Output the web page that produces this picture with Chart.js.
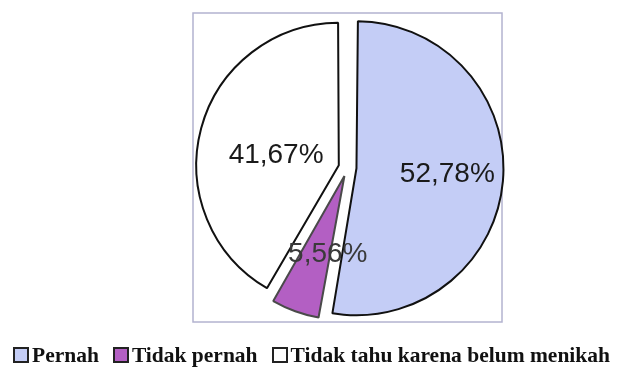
<!DOCTYPE html>
<html lang="id">
<head>
<meta charset="utf-8">
<title>Pie</title>
<script src="https://cdn.jsdelivr.net/npm/chart.js@4/dist/chart.umd.min.js"></script>
<style>
    body { margin: 0; background: #fff; }
    #wrap { position: relative; width: 623px; height: 367px; }
    #legenda {
        position: absolute; left: 0; top: 345px; width: 623px;
        display: flex; justify-content: center; gap: 14px;
        font: bold 21.5px "Liberation Serif", "Times New Roman", serif; color: #111;
        line-height: 20px;
    }
    #legenda .item { display: flex; align-items: center; }
    #legenda .kotak {
        width: 16px; height: 16px; box-sizing: border-box;
        border: 2px solid #222; margin-right: 3px;
    }
</style>
</head>
<body>
<div id="wrap">
    <canvas id="grafik" width="623" height="367"></canvas>
    <div id="legenda"></div>
</div>
<script>
// data
const kategori = ['Pernah', 'Tidak pernah', 'Tidak tahu karena belum menikah'];
const persen = [52.78, 5.56, 41.67];
const warna = ['#c4cdf6', '#b35fc3', '#ffffff'];
const warnaGaris = ['#111111', '#4a4a4a', '#111111'];

// posisi label: fraksi radius dan geser sudut (derajat)
const jarakLabel = [0.66, 0.58, 0.46];
const geserSudut = [-1, -8, -6];

// chart.js v4 membagi offset dengan 4 saat menggambar irisan
const OFFSET = 36;

const formatPersen = v => v.toFixed(2).replace('.', ',') + '%';

// bingkai area plot
const bingkai = {
    id: 'bingkai',
    beforeDraw(chart) {
        const { ctx, chartArea: a } = chart;
        ctx.save();
        ctx.strokeStyle = '#b3b3cf';
        ctx.lineWidth = 1.5;
        ctx.strokeRect(a.left, a.top, a.right - a.left, a.bottom - a.top);
        ctx.restore();
    }
};

// label persentase di dalam irisan
const labelIrisan = {
    id: 'labelIrisan',
    afterDatasetsDraw(chart) {
        const { ctx } = chart;
        const meta = chart.getDatasetMeta(0);
        ctx.save();
        ctx.font = '28px "Liberation Sans", Arial, sans-serif';
        ctx.textAlign = 'center';
        ctx.textBaseline = 'middle';
        meta.data.forEach((arc, i) => {
            const p = arc.getProps(['x', 'y', 'startAngle', 'endAngle', 'outerRadius']);
            const tengah = (p.startAngle + p.endAngle) / 2;
            const geser = OFFSET / 4;
            const cx = p.x + Math.cos(tengah) * geser;
            const cy = p.y + Math.sin(tengah) * geser;
            const sudut = tengah + geserSudut[i] * Math.PI / 180;
            const r = jarakLabel[i] * p.outerRadius;
            ctx.fillStyle = i === 1 ? '#3a3a3a' : '#1a1a1a';
            ctx.fillText(formatPersen(persen[i]), cx + Math.cos(sudut) * r, cy + Math.sin(sudut) * r);
        });
        ctx.restore();
    }
};

new Chart(document.getElementById('grafik'), {
    type: 'pie',
    data: {
        labels: kategori,
        datasets: [{
            data: persen,
            backgroundColor: warna,
            borderColor: warnaGaris,
            borderWidth: 2,
            offset: OFFSET
        }]
    },
    options: {
        responsive: false,
        animation: false,
        radius: 138,
        layout: { padding: { left: 193, right: 121, top: 13, bottom: 45 } },
        plugins: {
            legend: { display: false },
            tooltip: { enabled: false }
        }
    },
    plugins: [bingkai, labelIrisan]
});

// legenda di bawah grafik
document.getElementById('legenda').innerHTML = kategori.map((k, i) => `
    <div class="item">
        <span class="kotak" style="background: ${warna[i]};"></span>
        <span>${k}</span>
    </div>
`).join('');
</script>
</body>
</html>
